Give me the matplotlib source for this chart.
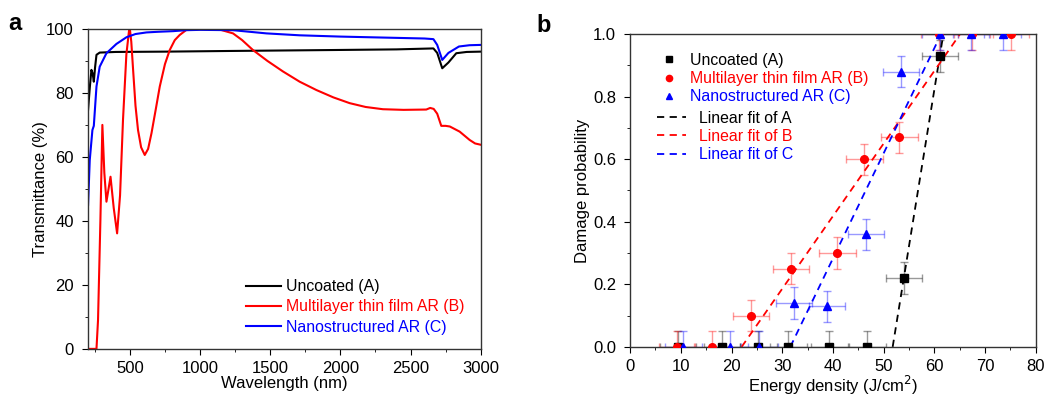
import numpy as np
import matplotlib.pyplot as plt
from matplotlib.lines import Line2D
from matplotlib.ticker import MultipleLocator

plt.rcParams['font.family'] = ['Liberation Sans', 'DejaVu Sans']
plt.rcParams['font.size'] = 12

# Panel a: transmittance spectra
wl_a = [202, 215, 226, 235, 243, 252, 262, 285, 400, 760, 1200, 1947, 2400, 2663, 2690, 2726, 2770, 2826, 2900, 3000]
t_a = [74.7, 82, 87.2, 86, 83.5, 88, 91.9, 92.6, 92.8, 92.9, 93.1, 93.4, 93.6, 93.9, 92.5, 87.7, 89.5, 92.4, 92.8, 92.9]

wl_b = [200, 262, 273, 290, 304, 318, 333, 348, 362, 385, 409, 430, 451, 475, 494, 500, 510, 523, 540, 558, 580, 606,
        630, 654, 685, 713, 750, 784, 820, 855, 903, 1000, 1140, 1235, 1300, 1377, 1480, 1591, 1710, 1829, 1950,
        2066, 2180, 2303, 2450, 2612, 2640, 2665, 2690, 2719, 2750, 2780, 2850, 2921, 2960, 3000]
t_b = [0, 0, 9, 40.3, 70, 55, 46, 50, 53.8, 44, 36.1, 48, 71.6, 92, 99.5, 100, 96, 87.2, 76, 68.4, 63, 60.6,
       62.5, 67.4, 75, 82, 89, 93.4, 96.5, 98.1, 99.7, 100, 99.8, 98.6, 96.5, 93.4, 90, 86.7, 83.5, 80.9, 78.6,
       76.8, 75.6, 74.9, 74.7, 74.8, 75.3, 75.0, 73.5, 69.7, 69.7, 69.5, 67.9, 65.3, 64.2, 63.8]

wl_c = [202, 214, 233, 243, 262, 285, 333, 404, 476, 540, 618, 700, 808, 900, 1000, 1235, 1473, 1710, 2000, 2300,
        2600, 2663, 2690, 2726, 2770, 2845, 2920, 3000]
t_c = [45, 59, 68.4, 69.7, 82, 88.2, 92.4, 95.3, 97.4, 98.4, 98.9, 99.1, 99.3, 99.6, 99.7, 99.6, 98.6, 98.0, 97.6, 97.3,
       97.0, 96.8, 95.0, 90.3, 92.5, 94.5, 94.9, 95.0]

# Panel b: damage probability
e_a = [9.4, 18.1, 25.3, 31.2, 39.3, 46.8, 54.0, 61.1]
p_a = [0, 0, 0, 0, 0, 0, 0.22, 0.93]
e_b = [9.2, 16.2, 23.8, 31.7, 40.9, 46.2, 53.1, 61.0, 67.5, 75.1]
p_b = [0, 0, 0.10, 0.25, 0.30, 0.60, 0.67, 1.0, 1.0, 1.0]
e_c = [10.5, 19.7, 25.5, 32.3, 38.8, 46.5, 53.4, 61.1, 67.3, 73.5]
p_c = [0, 0, 0, 0.14, 0.13, 0.36, 0.88, 1.0, 1.0, 1.0]
xerr = 3.6
yerr = 0.05

# linear fits: (slope, x at zero)
fit_a = (0.100, 51.8)
fit_b = (0.0232, 22.0)
fit_c = (0.0336, 31.6)

colors = ['black', '#ff0000', '#0000ff']

fig = plt.figure(figsize=(10.45, 3.96), dpi=100)
ax1 = fig.add_axes([0.084, 0.119, 0.376, 0.808])
ax2 = fig.add_axes([0.603, 0.124, 0.388, 0.790])

# ---- panel a
ax1.plot(wl_a, t_a, color=colors[0], lw=1.5, label='Uncoated (A)')
ax1.plot(wl_b, t_b, color=colors[1], lw=1.5, label='Multilayer thin film AR (B)')
ax1.plot(wl_c, t_c, color=colors[2], lw=1.5, label='Nanostructured AR (C)')
ax1.set_xlim(200, 3000)
ax1.set_ylim(0, 100)
ax1.xaxis.set_major_locator(MultipleLocator(500))
ax1.xaxis.set_minor_locator(MultipleLocator(250))
ax1.yaxis.set_major_locator(MultipleLocator(20))
ax1.yaxis.set_minor_locator(MultipleLocator(10))
ax1.set_xlabel('Wavelength (nm)', labelpad=0)
ax1.set_ylabel('Transmittance (%)', labelpad=-1)
leg1 = ax1.legend(loc='lower right', frameon=False, handlelength=2.2, handletextpad=0.3,
                  labelspacing=0.33, fontsize=11.4, bbox_to_anchor=(0.995, 0.0))
for txt, c in zip(leg1.get_texts(), colors):
    txt.set_color(c)

# ---- panel b
for e, p, c, m in [(e_a, p_a, colors[0], 's'), (e_b, p_b, colors[1], 'o'), (e_c, p_c, colors[2], '^')]:
    ax2.errorbar(e, p, xerr=xerr, yerr=yerr, fmt='none', ecolor=c, alpha=0.4,
                 elinewidth=1, capsize=3, capthick=1)
    ax2.plot(e, p, m, color=c, ms=5.5, zorder=3)

for (k, x0), c in zip([fit_a, fit_b, fit_c], colors):
    xs = np.array([x0, x0 + 1.0 / k])
    ax2.plot(xs, k * (xs - x0), '--', color=c, lw=1.3, dashes=(4, 3))

ax2.set_xlim(0, 80)
ax2.set_ylim(0, 1.0)
ax2.xaxis.set_major_locator(MultipleLocator(10))
ax2.xaxis.set_minor_locator(MultipleLocator(5))
ax2.yaxis.set_major_locator(MultipleLocator(0.2))
ax2.yaxis.set_minor_locator(MultipleLocator(0.1))
ax2.yaxis.set_major_formatter(plt.FormatStrFormatter('%.1f'))
ax2.set_xlabel('Energy density (J/cm$^2$)', labelpad=0)
ax2.set_ylabel('Damage probability', labelpad=2)

h_mark = [Line2D([], [], ls='none', marker=m, color=c, ms=4.5)
          for m, c in zip(['s', 'o', '^'], colors)]
leg2 = ax2.legend(h_mark, ['Uncoated (A)', 'Multilayer thin film AR (B)', 'Nanostructured AR (C)'],
                  loc='upper left', frameon=False, bbox_to_anchor=(0.042, 0.985), handlelength=1.0,
                  handletextpad=0.8, labelspacing=0.2, fontsize=11.4)
for txt, c in zip(leg2.get_texts(), colors):
    txt.set_color(c)
ax2.add_artist(leg2)
h_line = [Line2D([], [], ls='--', color=c, lw=1.3, dashes=(4, 3)) for c in colors]
leg3 = ax2.legend(h_line, ['Linear fit of A', 'Linear fit of B', 'Linear fit of C'],
                  loc='upper left', frameon=False, bbox_to_anchor=(0.032, 0.80), handlelength=1.8,
                  handletextpad=0.8, labelspacing=0.2, fontsize=11.4)
for txt, c in zip(leg3.get_texts(), colors):
    txt.set_color(c)

for ax in (ax1, ax2):
    ax.tick_params(which='both', direction='out', top=False, right=False, labelsize=12)
    ax.tick_params(axis='x', which='both', pad=4.5)
    ax.tick_params(axis='y', which='both', pad=6)
    ax.tick_params(which='major', length=4)
    ax.tick_params(which='minor', length=2.5)
    for s in ax.spines.values():
        s.set_linewidth(1.0)
        s.set_color('#333333')

fig.text(0.008, 0.925, 'a', fontsize=17, fontweight='bold')
fig.text(0.513, 0.92, 'b', fontsize=17, fontweight='bold')

fig.savefig('out.png', dpi=100)
